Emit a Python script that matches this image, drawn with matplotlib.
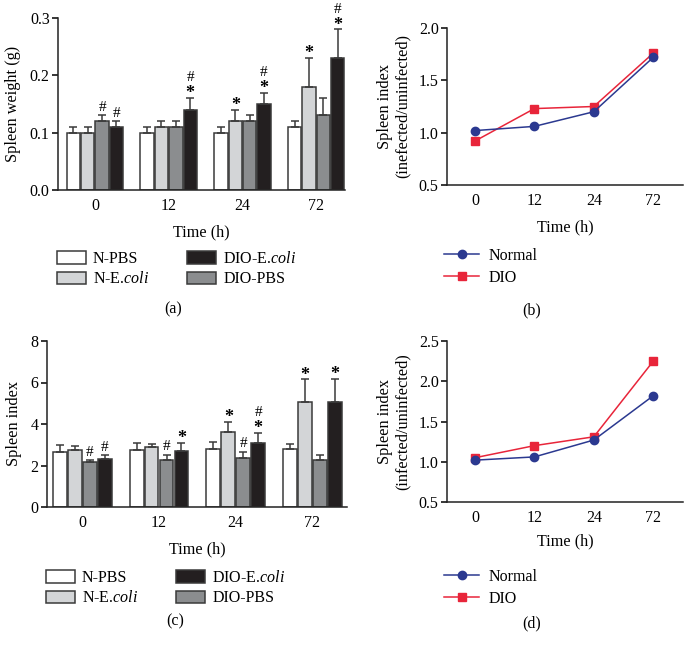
import matplotlib
matplotlib.use('Agg')
import matplotlib.pyplot as plt
import numpy as np

plt.rcParams['font.family'] = ['Liberation Serif', 'DejaVu Serif']
plt.rcParams['mathtext.fontset'] = 'custom'
plt.rcParams['mathtext.it'] = 'Liberation Serif:italic'
plt.rcParams['mathtext.rm'] = 'Liberation Serif'
plt.rcParams['font.size'] = 11

# ---------------- data ----------------
times = ['0', '12', '24', '72']
groups = ['N-PBS', 'N-E.coli', 'DIO-PBS', 'DIO-E.coli']

# (a) spleen weight (g): mean, upper error bar end
wt_npbs = [0.10, 0.10, 0.10, 0.11]
wt_necoli = [0.10, 0.11, 0.12, 0.18]
wt_diopbs = [0.12, 0.11, 0.12, 0.13]
wt_dioecoli = [0.11, 0.14, 0.15, 0.23]
wt_npbs_top = [0.11, 0.11, 0.11, 0.12]
wt_necoli_top = [0.11, 0.12, 0.14, 0.23]
wt_diopbs_top = [0.13, 0.12, 0.13, 0.16]
wt_dioecoli_top = [0.12, 0.16, 0.17, 0.28]
wt_marks = [['', '', '', ''],
            ['', '', '*', '*'],
            ['#', '', '', ''],
            ['#', '*#', '*#', '*#']]

# (c) spleen index
si_npbs = [2.67, 2.73, 2.80, 2.78]
si_necoli = [2.75, 2.91, 3.61, 5.07]
si_diopbs = [2.19, 2.27, 2.37, 2.26]
si_dioecoli = [2.32, 2.70, 3.10, 5.07]
si_npbs_top = [2.97, 3.10, 3.13, 3.02]
si_necoli_top = [2.94, 3.05, 4.09, 6.15]
si_diopbs_top = [2.26, 2.53, 2.67, 2.53]
si_dioecoli_top = [2.51, 3.10, 3.56, 6.18]
si_marks = [['', '', '', ''],
            ['', '', '*', '*'],
            ['#', '#', '#', ''],
            ['#', '*', '*#', '*']]

# (b) ratio of spleen weight, (d) ratio of spleen index
ratio_wt_normal = [1.02, 1.06, 1.20, 1.72]
ratio_wt_dio = [0.92, 1.23, 1.25, 1.76]
ratio_si_normal = [1.02, 1.06, 1.27, 1.82]
ratio_si_dio = [1.05, 1.20, 1.31, 2.25]

bar_colors = ['#ffffff', '#d3d5d7', '#8b8d8f', '#231f20']
edge = '#3a3a3a'
blue = '#2b3990'
red = '#e8253a'

fig = plt.figure(figsize=(6.86, 6.52), dpi=100)
W, H = 686.0, 652.0


def axes_px(left, top, right, bottom):
    return fig.add_axes([left / W, 1 - bottom / H, (right - left) / W, (bottom - top) / H])


def style(ax):
    ax.spines['top'].set_visible(False)
    ax.spines['right'].set_visible(False)
    for s in ['left', 'bottom']:
        ax.spines[s].set_linewidth(1.1)
        ax.spines[s].set_color('#222222')
    ax.tick_params(axis='y', length=4, width=1.1, direction='out', labelsize=11.5, pad=2)
    ax.tick_params(axis='x', length=0, labelsize=11.5, pad=6)


def bar_panel(ax, means, tops, marks, xlim):
    x = np.arange(len(times))
    w = 0.195
    offs = [-1.5 * w, -0.5 * w, 0.5 * w, 1.5 * w]
    handles = []
    for i in range(4):
        m = np.array(means[i])
        t = np.array(tops[i])
        b = ax.bar(x + offs[i], m, width=w * 0.93, color=bar_colors[i], edgecolor=edge,
                   linewidth=1.1, yerr=[np.zeros_like(m), t - m],
                   error_kw=dict(ecolor=edge, elinewidth=1.1, capsize=3, capthick=1.1), zorder=2)
        handles.append(b)
        for j in range(len(x)):
            s = marks[i][j]
            if not s:
                continue
            off = 1
            for ch in s:
                if ch == '*':
                    ax.annotate('*', (x[j] + offs[i], t[j]), xytext=(0, off - 4), textcoords='offset points',
                                ha='center', va='bottom', fontsize=13, fontweight='bold',
                                annotation_clip=False)
                    off += 9
                else:
                    ax.annotate('#', (x[j] + offs[i], t[j]), xytext=(0, off), textcoords='offset points',
                                ha='center', va='bottom', fontsize=11, annotation_clip=False)
                    off += 11
    ax.set_xticks(x)
    ax.set_xticklabels(times)
    ax.set_xlim(*xlim)
    return handles


def bar_legend(handles, x, y):
    order = [0, 1, 3, 2]
    labels = ['N-PBS', 'N-E.$\\it{coli}$', 'DIO-PBS', 'DIO-E.$\\it{coli}$']
    fig.legend([handles[k] for k in order], [labels[k] for k in order], ncol=2,
               loc='upper left', bbox_to_anchor=(x / W, 1 - y / H), frameon=False,
               handlelength=1.8, handleheight=0.85, handletextpad=0.45, columnspacing=2.4,
               labelspacing=0.28, borderpad=0, borderaxespad=0, fontsize=11.5)


def line_panel(ax, normal, dio):
    x = np.arange(len(times))
    ax.plot(x, normal, color=blue, lw=1.1, marker='o', ms=6, label='Normal', zorder=3)
    ax.plot(x, dio, color=red, lw=1.1, marker='s', ms=6, label='DIO', zorder=2)
    ax.set_xticks(x)
    ax.set_xticklabels(times)
    ax.set_xlim(-0.47, 3.5)


lab = dict(fontsize=11.7, fontweight='normal')

# (a)
ax_a = axes_px(58, 18, 345, 190)
style(ax_a)
h = bar_panel(ax_a, [wt_npbs, wt_necoli, wt_diopbs, wt_dioecoli],
              [wt_npbs_top, wt_necoli_top, wt_diopbs_top, wt_dioecoli_top], wt_marks, (-0.5, 3.39))
ax_a.set_ylim(0, 0.3)
ax_a.set_yticks([0.0, 0.1, 0.2, 0.3])
ax_a.set_yticklabels(['0.0', '0.1', '0.2', '0.3'])
ax_a.set_ylabel('Spleen weight (g)', labelpad=6, **lab)
ax_a.set_xlabel('Time (h)', labelpad=7, **lab)
bar_legend(h, 57, 251)
fig.text(173 / W, 1 - 309 / H, '(a)', ha='center', va='center', fontsize=11.5)

# (b)
ax_b = axes_px(447, 28, 683, 185)
style(ax_b)
line_panel(ax_b, ratio_wt_normal, ratio_wt_dio)
ax_b.set_ylim(0.5, 2.0)
ax_b.set_yticks([0.5, 1.0, 1.5, 2.0])
ax_b.set_yticklabels(['0.5', '1.0', '1.5', '2.0'])
ax_b.set_ylabel('Spleen index\n(inefected/uninfected)', labelpad=6, linespacing=1.1, **lab)
ax_b.set_xlabel('Time (h)', labelpad=7, **lab)
ax_b.legend(loc='upper left', bbox_to_anchor=(444 / W, 1 - 248 / H), bbox_transform=fig.transFigure,
            frameon=False, handlelength=2.2, handletextpad=0.6, labelspacing=0.35,
            borderpad=0, borderaxespad=0, fontsize=11.5)
fig.text(532 / W, 1 - 310 / H, '(b)', ha='center', va='center', fontsize=11.5)

# (c)
ax_c = axes_px(47, 341, 347, 507)
style(ax_c)
h = bar_panel(ax_c, [si_npbs, si_necoli, si_diopbs, si_dioecoli],
              [si_npbs_top, si_necoli_top, si_diopbs_top, si_dioecoli_top], si_marks, (-0.46, 3.45))
ax_c.set_ylim(0, 8)
ax_c.set_yticks([0, 2, 4, 6, 8])
ax_c.set_ylabel('Spleen index', labelpad=6, **lab)
ax_c.set_xlabel('Time (h)', labelpad=7, **lab)
bar_legend(h, 46, 570)
fig.text(175 / W, 1 - 621 / H, '(c)', ha='center', va='center', fontsize=11.5)

# (d)
ax_d = axes_px(447, 341, 683, 502)
style(ax_d)
line_panel(ax_d, ratio_si_normal, ratio_si_dio)
ax_d.set_ylim(0.5, 2.5)
ax_d.set_yticks([0.5, 1.0, 1.5, 2.0, 2.5])
ax_d.set_yticklabels(['0.5', '1.0', '1.5', '2.0', '2.5'])
ax_d.set_ylabel('Spleen index\n(infected/uninfected)', labelpad=6, linespacing=1.1, **lab)
ax_d.set_xlabel('Time (h)', labelpad=5, **lab)
ax_d.legend(loc='upper left', bbox_to_anchor=(444 / W, 1 - 569 / H), bbox_transform=fig.transFigure,
            frameon=False, handlelength=2.2, handletextpad=0.6, labelspacing=0.35,
            borderpad=0, borderaxespad=0, fontsize=11.5)
fig.text(532 / W, 1 - 623 / H, '(d)', ha='center', va='center', fontsize=11.5)

fig.savefig('out.png', dpi=100)
